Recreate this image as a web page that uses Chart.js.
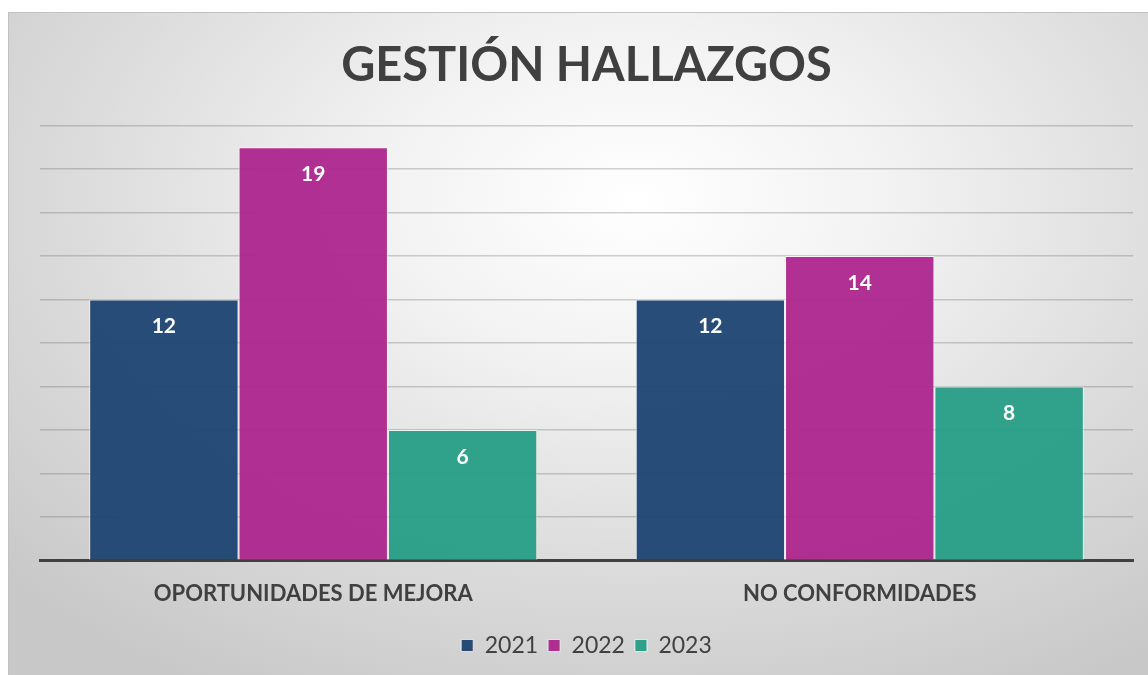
<!DOCTYPE html>
<html lang="es">
<head>
  <meta charset="UTF-8">
  <script src="https://cdn.jsdelivr.net/npm/chart.js"></script>
  <title>Gestión hallazgos</title>
  <style>
    html, body { margin: 0; padding: 0; background: #ffffff; }
    #panel {
      position: absolute; left: 8px; top: 12px; width: 1140px; height: 663px;
      border-left: 1px solid #c2c2c2; border-top: 1px solid #c2c2c2;
      box-sizing: border-box;
      background: radial-gradient(ellipse 75% 85% at 55% 28%, #ffffff 0%, #f2f2f2 30%, #dcdcdc 65%, #c8c8c8 100%);
    }
    canvas { position: absolute; left: 0; top: 0; }
  </style>
</head>
<body>
  <div id="panel">
    <canvas id="grafico" width="1140" height="663"></canvas>
  </div>
<script>
  const categorias = ['OPORTUNIDADES DE MEJORA', 'NO CONFORMIDADES'];
  const anios = ['2021', '2022', '2023'];
  const valores2021 = [12, 12];
  const valores2022 = [19, 14];
  const valores2023 = [6, 8];
  const ejeMax = 20;
  const ejePaso = 2;

  const colores = ['rgba(30, 67, 114, 0.95)', 'rgba(172, 38, 141, 0.95)', 'rgba(38, 157, 133, 0.95)'];
  const fuente = 'Lato, "DejaVu Sans", sans-serif';

  // etiquetas blancas dentro de las barras, cerca del borde superior
  const etiquetasBarras = {
    id: 'etiquetasBarras',
    afterDatasetsDraw(chart) {
      const ctx = chart.ctx;
      ctx.save();
      ctx.fillStyle = '#ffffff';
      ctx.font = 'bold 21px ' + fuente;
      ctx.textAlign = 'center';
      ctx.textBaseline = 'middle';
      chart.data.datasets.forEach((ds, i) => {
        chart.getDatasetMeta(i).data.forEach((barra, j) => {
          ctx.fillText(ds.data[j], barra.x, barra.y + 27);
        });
      });
      ctx.restore();
    }
  };

  const ctx = document.getElementById('grafico');
  new Chart(ctx, {
    type: 'bar',
    data: {
      labels: categorias,
      datasets: [
        { label: anios[0], data: valores2021, backgroundColor: colores[0] },
        { label: anios[1], data: valores2022, backgroundColor: colores[1] },
        { label: anios[2], data: valores2023, backgroundColor: colores[2] }
      ]
    },
    options: {
      responsive: false,
      animation: false,
      datasets: {
        bar: {
          categoryPercentage: 0.82,
          barPercentage: 1.0,
          borderWidth: 1,
          borderColor: 'rgba(255, 255, 255, 0.7)'
        }
      },
      layout: { padding: { left: 31, right: 16, top: 0, bottom: 9 } },
      plugins: {
        title: {
          display: true,
          text: 'GESTIÓN HALLAZGOS',
          color: '#404040',
          font: { family: fuente, size: 47, weight: 'bold' },
          padding: { top: 25, bottom: 31 }
        },
        legend: {
          position: 'bottom',
          labels: {
            color: '#404040',
            font: { family: fuente, size: 23 },
            boxWidth: 12,
            boxHeight: 12,
            padding: 10
          }
        },
        tooltip: { enabled: false }
      },
      scales: {
        x: {
          grid: { display: false },
          border: { display: true, color: '#404040', width: 3 },
          ticks: {
            color: '#404040',
            font: { family: fuente, size: 22, weight: 'bold' },
            padding: 12
          },
          afterFit(escala) { escala.height += 5; }
        },
        y: {
          min: 0,
          max: ejeMax,
          ticks: { display: false, stepSize: ejePaso },
          grid: { color: 'rgba(90, 90, 90, 0.28)', lineWidth: 1.5, drawTicks: false },
          border: { display: false }
        }
      }
    },
    plugins: [etiquetasBarras]
  });
</script>
</body>
</html>
